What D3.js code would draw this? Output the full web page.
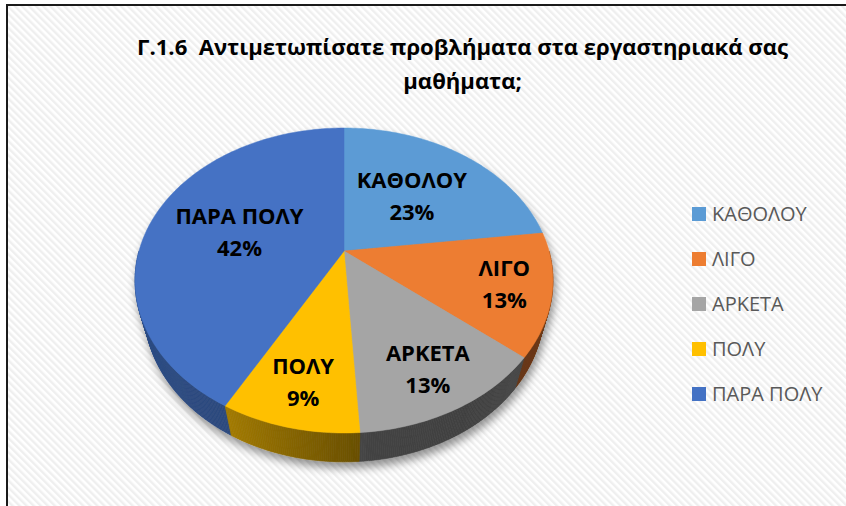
<!DOCTYPE html>
<html>
<head>
<meta charset="utf-8">
<script src="https://cdn.jsdelivr.net/npm/d3@7"></script>
<style>
  html, body { margin: 0; padding: 0; background: #fff; }
  svg { display: block; }
  text { white-space: pre; }
</style>
</head>
<body>
<svg id="chart" width="846" height="506"></svg>
<script>
// ---------- data ----------
const categories = ["ΚΑΘΟΛΟΥ", "ΛΙΓΟ", "ΑΡΚΕΤΑ", "ΠΟΛΥ", "ΠΑΡΑ ΠΟΛΥ"];
const values = [23, 13, 13, 9, 42];
const percentLabels = ["23%", "13%", "13%", "9%", "42%"];
const colors = ["#5B9BD5", "#ED7D31", "#A5A5A5", "#FFC000", "#4472C4"];
const titleLines = ["Γ.1.6  Αντιμετωπίσατε προβλήματα στα εργαστηριακά σας", "μαθήματα;"];

// ---------- setup ----------
const W = 846, H = 506;
const svg = d3.select("#chart");
const defs = svg.append("defs");

const pat = defs.append("pattern")
  .attr("id", "stripes").attr("patternUnits", "userSpaceOnUse")
  .attr("width", 5).attr("height", 5)
  .attr("patternTransform", "rotate(-45)");
pat.append("rect").attr("width", 5).attr("height", 5).attr("fill", "#ffffff");
pat.append("rect").attr("width", 2.4).attr("height", 5).attr("fill", "#efefef");

const filt = defs.append("filter").attr("id", "shadow")
  .attr("x", "-20%").attr("y", "-20%").attr("width", "140%").attr("height", "140%");
filt.append("feDropShadow").attr("dx", 2).attr("dy", 6)
  .attr("stdDeviation", 4).attr("flood-color", "#000").attr("flood-opacity", 0.42);

// background & frame
svg.append("rect").attr("x", 0).attr("y", 0).attr("width", W).attr("height", H).attr("fill", "#fff");
svg.append("rect").attr("x", 7).attr("y", 5).attr("width", W + 20).attr("height", H + 20)
  .attr("fill", "url(#stripes)").attr("stroke", "#1a1a1a").attr("stroke-width", 2);

// ---------- title ----------
const titleG = svg.append("g")
  .attr("font-family", "'Open Sans', 'Noto Sans', sans-serif")
  .attr("font-weight", "bold").attr("font-size", 22).attr("fill", "#000")
  .attr("text-anchor", "middle");
const titleTargetWidth = 651;
const t1 = titleG.append("text").attr("x", 462.5).attr("y", 54.5).text(titleLines[0]);
const t2 = titleG.append("text").attr("x", 462.5).attr("y", 88.5).text(titleLines[1]);
const w1 = t1.node().getComputedTextLength();
const ratio = titleTargetWidth / w1;
t1.attr("textLength", titleTargetWidth).attr("lengthAdjust", "spacingAndGlyphs");
t2.attr("textLength", t2.node().getComputedTextLength() * ratio).attr("lengthAdjust", "spacingAndGlyphs");

// ---------- 3D pie projection ----------
const S = 205, cx = 344, cy = 251;
const phi = Math.asin(0.716);
const sinP = Math.sin(phi), cosP = Math.cos(phi);
const F = 3.61, T = 0.23;
function proj(r, theta, depth) {
  const x = r * Math.sin(theta), z = -r * Math.cos(theta);
  const v = z * sinP + depth * cosP;
  const w = z * cosP - depth * sinP;
  const s = F / (F - w);
  return [cx + S * x * s, cy + S * v * s];
}

const arcs = d3.pie().sort(null).value(d => d)(values);
const pieG = svg.append("g").attr("filter", "url(#shadow)");

// rim (side) segments
const shade = d3.scaleLinear().domain([90, 150, 176, 209, 270]).range([0.52, 0.39, 0.41, 0.64, 0.70]);
const step = Math.PI / 360;
const segs = [];
arcs.forEach((a, i) => {
  const s0 = Math.max(a.startAngle, Math.PI / 2), s1 = Math.min(a.endAngle, 3 * Math.PI / 2);
  if (s1 <= s0) return;
  const n = Math.ceil((s1 - s0) / step);
  for (let k = 0; k < n; k++) {
    const th0 = s0 + (s1 - s0) * k / n, th1 = s0 + (s1 - s0) * (k + 1) / n;
    const mid = (th0 + th1) / 2;
    const f = shade(mid * 180 / Math.PI);
    const c = d3.rgb(colors[i]);
    const col = d3.rgb(c.r * f, c.g * f, c.b * f).formatHex();
    segs.push({ z: -Math.cos(mid), pts: [proj(1, th0, 0), proj(1, th1, 0), proj(1, th1, T), proj(1, th0, T)], col });
  }
});
segs.sort((a, b) => a.z - b.z);
const lineGen = d3.line();
pieG.selectAll("path.rim").data(segs).enter().append("path").attr("class", "rim")
  .attr("d", d => lineGen(d.pts) + "Z")
  .attr("fill", d => d.col).attr("stroke", d => d.col).attr("stroke-width", 0.6);

// top faces
pieG.selectAll("path.top").data(arcs).enter().append("path").attr("class", "top")
  .attr("d", a => {
    const pts = [proj(0, 0, 0)];
    const n = Math.max(2, Math.ceil((a.endAngle - a.startAngle) / (Math.PI / 180)));
    for (let k = 0; k <= n; k++) pts.push(proj(1, a.startAngle + (a.endAngle - a.startAngle) * k / n, 0));
    return lineGen(pts) + "Z";
  })
  .attr("fill", (a, i) => colors[i]).attr("stroke", (a, i) => colors[i]).attr("stroke-width", 0.5);

// labels
const labG = svg.append("g")
  .attr("font-family", "'Open Sans', 'Noto Sans', sans-serif")
  .attr("font-weight", "bold").attr("font-size", 22).attr("fill", "#000")
  .attr("text-anchor", "middle");
arcs.forEach((a, i) => {
  const frac = (a.endAngle - a.startAngle) / (2 * Math.PI);
  const r = frac > 0.2 ? 0.54 : 0.78;
  const mid = (a.startAngle + a.endAngle) / 2;
  const [lx, ly] = proj(r, mid, 0);
  const t = labG.append("text").attr("x", lx).attr("y", ly - 8);
  t.append("tspan").attr("x", lx).attr("dy", 0).text(categories[i]);
  t.append("tspan").attr("x", lx).attr("dy", 32).text(percentLabels[i]);
});

// ---------- legend ----------
const legG = svg.append("g")
  .attr("font-family", "'Open Sans', 'Noto Sans', sans-serif")
  .attr("font-size", 20).attr("fill", "#595959");
const legY = d3.scalePoint().domain(categories).range([214, 394]);
categories.forEach((c, i) => {
  legG.append("rect").attr("x", 692).attr("y", legY(c) - 7).attr("width", 14).attr("height", 14).attr("fill", colors[i]);
  legG.append("text").attr("x", 712).attr("y", legY(c) + 7).text(c);
});
</script>
</body>
</html>
